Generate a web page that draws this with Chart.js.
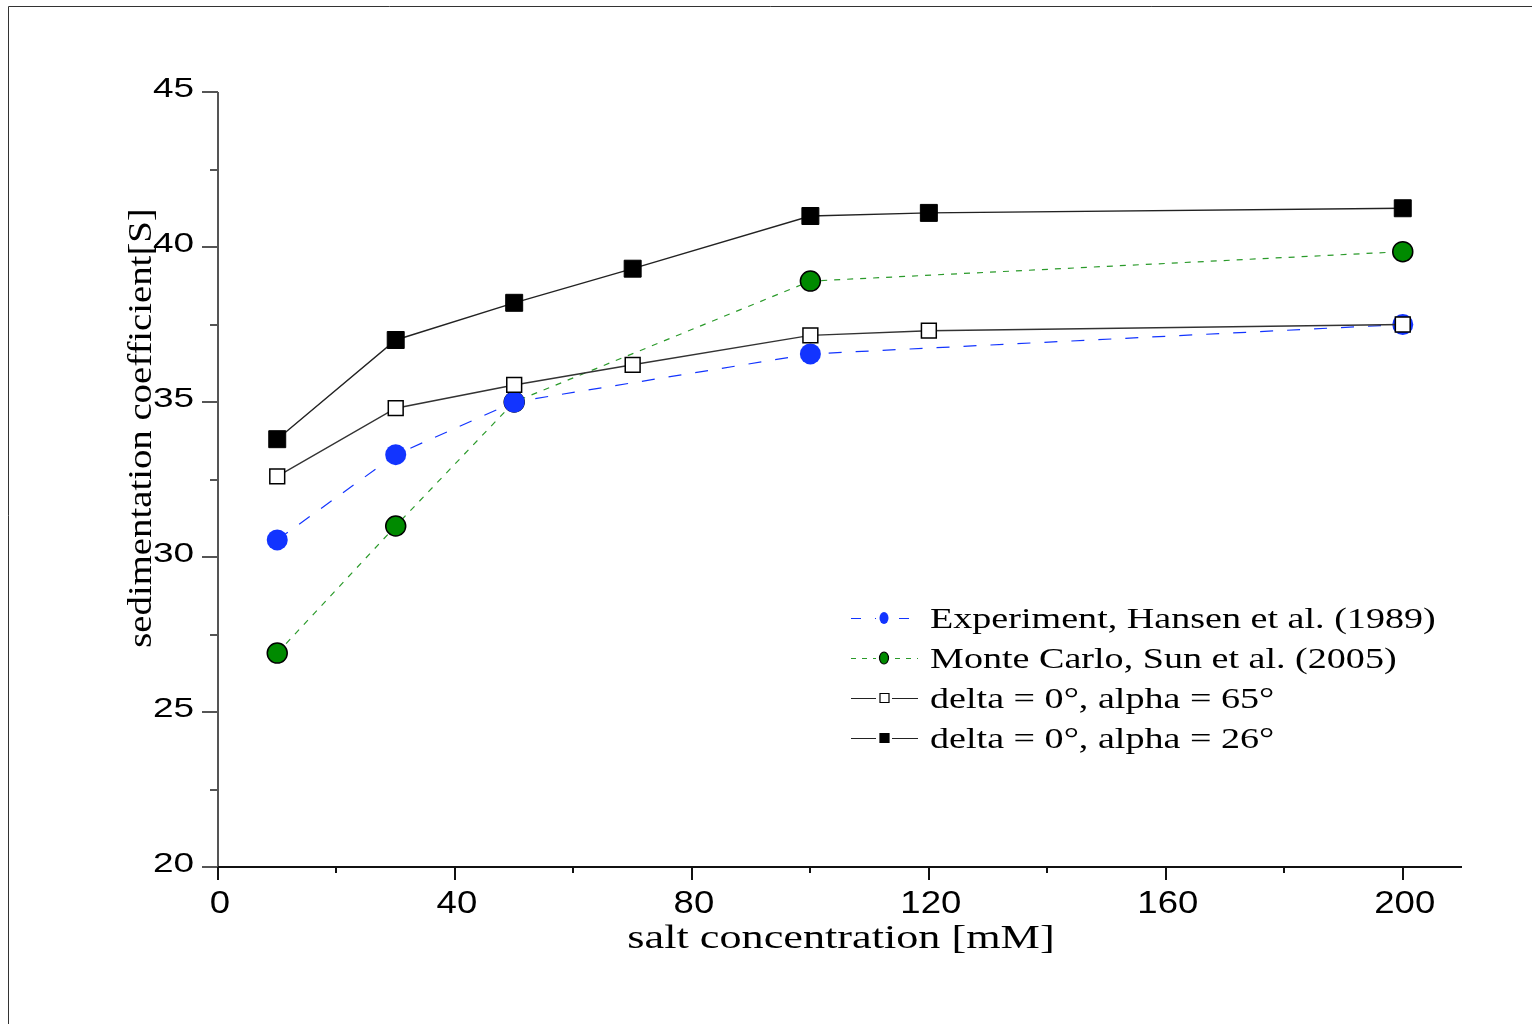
<!DOCTYPE html>
<html lang="en">
<head>
  <meta charset="UTF-8">
  <title>Sedimentation coefficient vs salt concentration</title>
  <script src="https://cdn.jsdelivr.net/npm/chart.js"></script>
  <style>
    * { box-sizing: border-box; }
    body { margin: 0; padding: 0; background: #fff; }
    #wrap { width: 1532px; height: 1024px; }
  </style>
</head>
<body>
  <div id="wrap">
    <canvas id="grafica" width="1532" height="1024"></canvas>
  </div>
  <script>
// measured data
const expX = [10, 30, 50, 100, 200];
const expY = [30.55, 33.3, 35.0, 36.55, 37.5];
const mcX = [10, 30, 50, 100, 200];
const mcY = [26.9, 31.0, 35.0, 38.9, 39.85];
const simX = [10, 30, 50, 70, 100, 120, 200];
const alpha65Y = [32.6, 34.8, 35.55, 36.2, 37.15, 37.3, 37.5];
const alpha26Y = [33.8, 37.0, 38.2, 39.3, 41.0, 41.1, 41.25];

const seriesNames = [
  'Experiment, Hansen et al. (1989)',
  'Monte Carlo, Sun et al. (2005)',
  'delta = 0\u00b0, alpha = 65\u00b0',
  'delta = 0\u00b0, alpha = 26\u00b0'
];
const xTicks = [0, 40, 80, 120, 160, 200];
const yTicks = [20, 25, 30, 35, 40, 45];
const xTitle = 'salt concentration [mM]';
const yTitle = 'sedimentation coefficient[S]';

function pts(xs, ys) {
  return xs.map((x, i) => ({ x: x, y: ys[i] }));
}

// text stretched sideways, like the original export
function wideText(ctx, text, x, y, font, sx, align) {
  ctx.save();
  ctx.translate(x, y);
  ctx.scale(sx, 1);
  ctx.font = font;
  ctx.textAlign = align;
  ctx.textBaseline = 'alphabetic';
  ctx.fillStyle = '#000';
  ctx.fillText(text, 0, 0);
  ctx.restore();
}

const blue = '#1234ff';
const green = '#008a00';

const ejes = {
  id: 'ejes',
  beforeDatasetsDraw(chart) {
    const ctx = chart.ctx;
    const xs = chart.scales.x, ys = chart.scales.y;
    const a = chart.chartArea;
    ctx.save();
    // outer frame (top and left only)
    ctx.strokeStyle = '#333';
    ctx.lineWidth = 1;
    ctx.beginPath();
    ctx.moveTo(8.5, 1024);
    ctx.lineTo(8.5, 6.5);
    ctx.lineTo(1532, 6.5);
    ctx.stroke();

    // y axis + ticks
    ctx.strokeStyle = '#555';
    ctx.lineWidth = 2;
    ctx.beginPath();
    ctx.moveTo(a.left, a.top);
    ctx.lineTo(a.left, a.bottom);
    for (let v = 20; v <= 45; v += 2.5) {
      const py = Math.round(ys.getPixelForValue(v));
      const len = (v % 5 === 0) ? 16 : 8;
      ctx.moveTo(a.left - len, py);
      ctx.lineTo(a.left, py);
    }
    ctx.stroke();

    // x axis + ticks
    ctx.strokeStyle = '#111';
    ctx.beginPath();
    ctx.moveTo(a.left, a.bottom);
    ctx.lineTo(a.right, a.bottom);
    for (let v = 0; v <= 200; v += 20) {
      const px = Math.round(xs.getPixelForValue(v));
      const len = (v % 40 === 0) ? 13 : 6;
      ctx.moveTo(px, a.bottom);
      ctx.lineTo(px, a.bottom + len);
    }
    ctx.stroke();

    // tick labels
    yTicks.forEach(v => {
      wideText(ctx, String(v), a.left - 24, ys.getPixelForValue(v) + 5,
        '28px "Liberation Sans", Arial, sans-serif', 1.32, 'right');
    });
    xTicks.forEach(v => {
      wideText(ctx, String(v), xs.getPixelForValue(v) + 2, a.bottom + 46,
        '31px "Liberation Sans", Arial, sans-serif', 1.18, 'center');
    });

    // axis titles
    wideText(ctx, xTitle, (a.left + a.right) / 2 + 1, 948,
      '33px "Liberation Serif", "Times New Roman", serif', 1.34, 'center');
    ctx.save();
    ctx.translate(142, 428);
    ctx.rotate(-Math.PI / 2);
    wideText(ctx, yTitle, 0, 9,
      '34px "Liberation Serif", "Times New Roman", serif', 1.14, 'center');
    ctx.restore();
    ctx.restore();
  },
  afterDraw(chart) {
    // legend: short line with a marker, then the label
    const ctx = chart.ctx;
    const rows = [
      { dash: [10, 14], color: blue, mark: 'dot', fill: blue, edge: null },
      { dash: [5, 6], color: '#2a9a2a', mark: 'dot', fill: green, edge: '#000' },
      { dash: [], color: '#222', mark: 'sq', fill: '#fff', edge: '#000' },
      { dash: [], color: '#222', mark: 'sq', fill: '#000', edge: '#000' }
    ];
    rows.forEach((r, i) => {
      const cy = 618 + i * 40;
      ctx.save();
      ctx.strokeStyle = r.color;
      ctx.lineWidth = 1.2;
      ctx.setLineDash(r.dash);
      ctx.beginPath();
      ctx.moveTo(851, cy + 0.5);
      ctx.lineTo(918, cy + 0.5);
      ctx.stroke();
      ctx.setLineDash([]);
      ctx.fillStyle = '#fff';
      ctx.fillRect(876, cy - 7, 16, 14);
      ctx.fillStyle = r.fill;
      ctx.beginPath();
      if (r.mark === 'dot') {
        ctx.ellipse(884, cy, 4.5, 6, 0, 0, Math.PI * 2);
      } else {
        ctx.rect(880, cy - 4.5, 9, 9);
      }
      ctx.fill();
      if (r.edge) {
        ctx.strokeStyle = r.edge;
        ctx.lineWidth = 1.2;
        ctx.stroke();
      }
      ctx.restore();
      wideText(ctx, seriesNames[i], 930, cy + 10,
        '30px "Liberation Serif", "Times New Roman", serif', 1.27, 'left');
    });
  }
};

const ctx = document.getElementById('grafica').getContext('2d');
new Chart(ctx, {
  type: 'line',
  data: {
    datasets: [
      {
        label: seriesNames[0],
        data: pts(expX, expY),
        borderColor: blue,
        borderWidth: 1.2,
        borderDash: [13, 14],
        pointStyle: 'circle',
        pointRadius: 10.5,
        pointBackgroundColor: blue,
        pointBorderColor: blue,
        pointBorderWidth: 0,
        order: 1
      },
      {
        label: seriesNames[1],
        data: pts(mcX, mcY),
        borderColor: '#2a9a2a',
        borderWidth: 1.2,
        borderDash: [6, 7],
        pointStyle: 'circle',
        pointRadius: 10,
        pointBackgroundColor: green,
        pointBorderColor: '#000',
        pointBorderWidth: 1.5,
        order: 2
      },
      {
        label: seriesNames[2],
        data: pts(simX, alpha65Y),
        borderColor: '#333',
        borderWidth: 1.4,
        pointStyle: 'rect',
        pointRadius: 10.5,
        pointBackgroundColor: '#fff',
        pointBorderColor: '#000',
        pointBorderWidth: 1.5,
        order: 0
      },
      {
        label: seriesNames[3],
        data: pts(simX, alpha26Y),
        borderColor: '#222',
        borderWidth: 1.4,
        pointStyle: 'rect',
        pointRadius: 12,
        pointBackgroundColor: '#000',
        pointBorderColor: '#000',
        pointBorderWidth: 1,
        order: 3
      }
    ]
  },
  options: {
    responsive: false,
    animation: false,
    events: [],
    layout: { padding: { left: 218, right: 70, top: 92, bottom: 157 } },
    plugins: {
      legend: { display: false },
      tooltip: { enabled: false }
    },
    elements: { line: { tension: 0, fill: false } },
    scales: {
      x: { type: 'linear', min: 0, max: 210, display: false },
      y: { type: 'linear', min: 20, max: 45, display: false }
    }
  },
  plugins: [ejes]
});
  </script>
</body>
</html>
